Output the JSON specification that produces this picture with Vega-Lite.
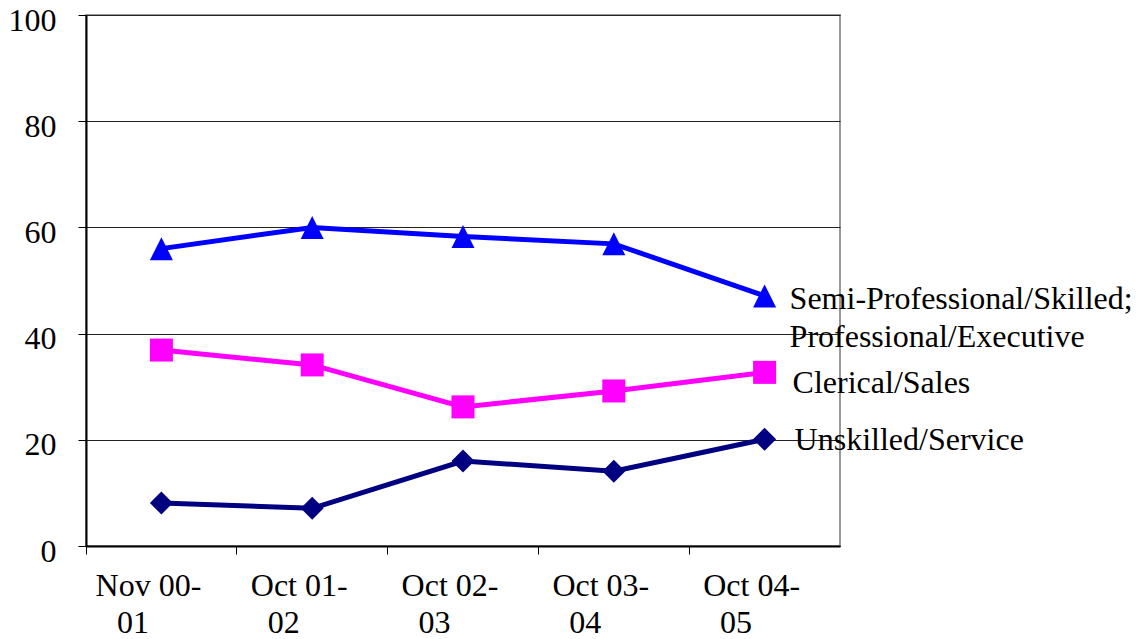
{
  "$schema": "https://vega.github.io/schema/vega-lite/v6.json",
  "width": 754,
  "height": 531,
  "autosize": {"type": "none"},
  "padding": {"left": 86, "top": 15, "right": 298, "bottom": 93},
  "background": "white",
  "config": {
    "view": {"stroke": "#999999", "strokeWidth": 2},
    "font": "Liberation Serif"
  },
  "data": {
    "values": [
      {"period": "Nov 00-01", "series": "Semi", "value": 56, "label": ["Semi-Professional/Skilled;", "Professional/Executive"]},
      {"period": "Oct 01-02", "series": "Semi", "value": 60, "label": ["Semi-Professional/Skilled;", "Professional/Executive"]},
      {"period": "Oct 02-03", "series": "Semi", "value": 58.3, "label": ["Semi-Professional/Skilled;", "Professional/Executive"]},
      {"period": "Oct 03-04", "series": "Semi", "value": 56.9, "label": ["Semi-Professional/Skilled;", "Professional/Executive"]},
      {"period": "Oct 04-05", "series": "Semi", "value": 47.1, "label": ["Semi-Professional/Skilled;", "Professional/Executive"]},
      {"period": "Nov 00-01", "series": "Clerical", "value": 36.9, "label": "Clerical/Sales"},
      {"period": "Oct 01-02", "series": "Clerical", "value": 34.1, "label": "Clerical/Sales"},
      {"period": "Oct 02-03", "series": "Clerical", "value": 26.2, "label": "Clerical/Sales"},
      {"period": "Oct 03-04", "series": "Clerical", "value": 29.2, "label": "Clerical/Sales"},
      {"period": "Oct 04-05", "series": "Clerical", "value": 32.7, "label": "Clerical/Sales"},
      {"period": "Nov 00-01", "series": "Unskilled", "value": 8.1, "label": "Unskilled/Service"},
      {"period": "Oct 01-02", "series": "Unskilled", "value": 7.1, "label": "Unskilled/Service"},
      {"period": "Oct 02-03", "series": "Unskilled", "value": 16, "label": "Unskilled/Service"},
      {"period": "Oct 03-04", "series": "Unskilled", "value": 14.1, "label": "Unskilled/Service"},
      {"period": "Oct 04-05", "series": "Unskilled", "value": 20.1, "label": "Unskilled/Service"}
    ]
  },
  "encoding": {
    "x": {
      "field": "period", "type": "nominal", "sort": null,
      "scale": {"type": "band", "paddingInner": 0, "paddingOuter": 0},
      "axis": {
        "title": null, "labelAngle": 0, "labelFont": "Liberation Serif", "labelFontSize": 32,
        "labelColor": "black", "labelExpr": "[slice(datum.value,0,7), slice(datum.value,7) + '\u00a0\u2800']",
        "labelLineHeight": 37, "labelPadding": 16, "labelOffset": -13,
        "tickColor": "black", "tickSize": 8, "bandPosition": 0, "tickWidth": 1,
        "domainColor": "black", "domainWidth": 2, "grid": false
      }
    },
    "y": {
      "field": "value", "type": "quantitative",
      "scale": {"domain": [0, 100], "nice": false},
      "axis": {
        "title": null, "values": [0, 20, 40, 60, 80, 100], "labelFont": "Liberation Serif",
        "labelFontSize": 32, "labelColor": "black", "labelPadding": 22, "labelOffset": 5,
        "tickColor": "black", "tickSize": 8, "tickWidth": 1,
        "domainColor": "black", "domainWidth": 2,
        "grid": true, "gridColor": "#222222", "gridWidth": 1
      }
    },
    "color": {
      "field": "series", "type": "nominal", "legend": null,
      "scale": {"domain": ["Semi", "Clerical", "Unskilled"], "range": ["#0000FF", "#FF00FF", "#000080"]}
    }
  },
  "layer": [
    {"mark": {"type": "line", "strokeWidth": 5}},
    {
      "mark": {"type": "point", "filled": true, "opacity": 1},
      "encoding": {
        "shape": {
          "field": "series", "type": "nominal", "legend": null,
          "scale": {"domain": ["Semi", "Clerical", "Unskilled"], "range": ["M0,-1L1,1L-1,1Z", "square", "diamond"]}
        },
        "size": {"value": 529}
      }
    },
    {
      "transform": [{"filter": "datum.period == 'Oct 04-05' && datum.series == 'Semi'"}],
      "mark": {"type": "text", "align": "left", "baseline": "alphabetic", "dx": 25, "dy": 13, "fontSize": 32, "font": "Liberation Serif", "lineHeight": 38},
      "encoding": {"text": {"field": "label"}, "color": {"value": "black"}}
    },
    {
      "transform": [{"filter": "datum.period == 'Oct 04-05' && datum.series == 'Clerical'"}],
      "mark": {"type": "text", "align": "left", "baseline": "alphabetic", "dx": 28, "dy": 21, "fontSize": 32, "font": "Liberation Serif"},
      "encoding": {"text": {"field": "label"}, "color": {"value": "black"}}
    },
    {
      "transform": [{"filter": "datum.period == 'Oct 04-05' && datum.series == 'Unskilled'"}],
      "mark": {"type": "text", "align": "left", "baseline": "alphabetic", "dx": 30, "dy": 11, "fontSize": 32, "font": "Liberation Serif"},
      "encoding": {"text": {"field": "label"}, "color": {"value": "black"}}
    }
  ]
}
